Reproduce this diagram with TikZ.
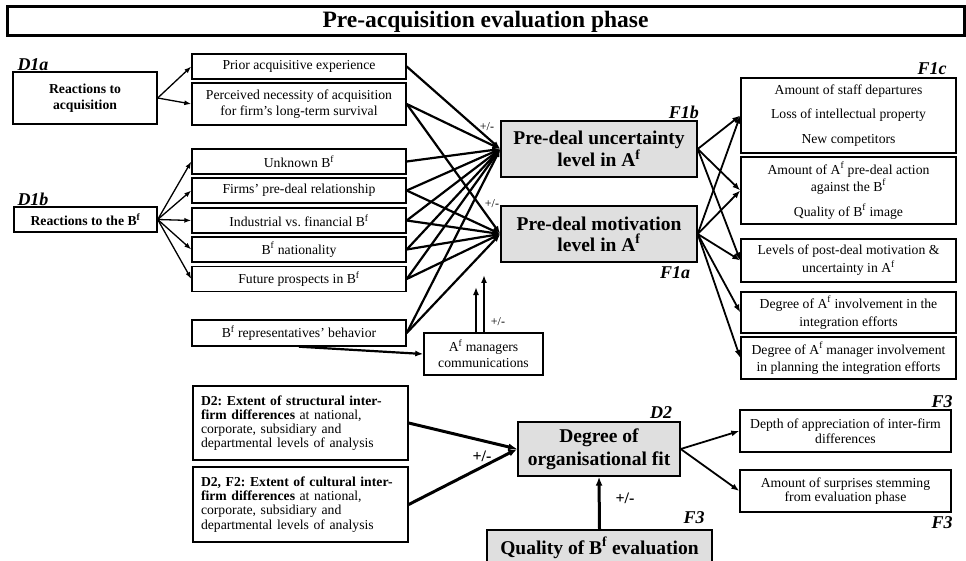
\documentclass[tikz,border=0pt]{standalone}
\usepackage{fontspec}
\setmainfont{Liberation Serif}
\usetikzlibrary{arrows.meta}
\frenchspacing

\newcommand{\fsz}[2]{\fontsize{#1}{#2}\selectfont}
\newcommand{\Bf}{B\textsuperscript{f}}
\newcommand{\Af}{A\textsuperscript{f}}

\tikzset{
  box/.style={draw, line width=1.4pt, inner sep=0pt, align=center, font=\fsz{13.7}{16}},
  hub/.style={box, fill=gray!25, font=\bfseries\fsz{19.5}{21}},
  tag/.style={font=\bfseries\itshape\fsz{18}{18}, inner sep=0pt},
  pm/.style={font=\fsz{12}{12}, inner sep=0pt},
  pmb/.style={font=\bfseries\fsz{16}{16}, inner sep=0pt},
  feed/.style={line width=1.3pt, -{Latex[length=7pt,width=5pt]}},
  fan/.style={line width=2.2pt, -{Latex[length=8pt,width=6pt]}},
  spread/.style={line width=1.8pt, -{Latex[length=8pt,width=6pt]}},
  heavy/.style={line width=3pt, -{Latex[length=9pt,width=7pt]}},
}

\begin{document}
\begin{tikzpicture}[x=1pt,y=-1pt]
\useasboundingbox (0,0) rectangle (966,561);
\clip (0,0) rectangle (966,561);

% heading
\node[draw, line width=3pt, minimum width=957pt, minimum height=29pt, inner sep=0pt,
      font=\bfseries\fsz{23.5}{23.5}] (title) at (485.5,21.5) {Pre-acquisition evaluation phase};

% D1a: reactions to the acquisition
\node[tag] (d1a) at (33,65) {D1a};
\node[box, font=\bfseries\fsz{13.7}{15.5}, minimum width=144pt, minimum height=52pt] (acq) at (85,98) {Reactions to\\acquisition};
\node[box, minimum width=214pt, minimum height=25pt] (prior) at (299,66.5) {Prior acquisitive experience};
\node[box, minimum width=214pt, minimum height=42pt] (necess) at (299,104) {Perceived necessity of acquisition\\for firm’s long-term survival};

% D1b: reactions to the buying firm
\node[tag] (d1b) at (33,199) {D1b};
\node[box, font=\bfseries\fsz{13.7}{15.5}, minimum width=143pt, minimum height=25pt] (bf) at (85.5,219.5) {Reactions to the \Bf};
\node[box, minimum width=214pt, minimum height=25pt] (unk) at (299,161.5) {Unknown \Bf};
\node[box, minimum width=214pt, minimum height=25pt] (firms) at (299,190.5) {Firms’ pre-deal relationship};
\node[box, minimum width=214pt, minimum height=25pt] (indus) at (299,220.5) {Industrial vs. financial \Bf};
\node[box, minimum width=214pt, minimum height=25pt] (nation) at (299,249.5) {\Bf{} nationality};
\node[box, minimum width=214pt, minimum height=25pt] (future) at (299,279) {Future prospects in \Bf};
\node[box, minimum width=214pt, minimum height=26pt] (rep) at (299,333) {\Bf{} representatives’ behavior};

% central constructs
\node[hub, minimum width=196pt, minimum height=56pt] (unc) at (599,149) {Pre-deal uncertainty\\level in \Af};
\node[hub, minimum width=196pt, minimum height=56pt] (mot) at (599,234) {Pre-deal motivation\\level in \Af};
\node[tag, anchor=east] (f1b) at (699,112) {F1b};
\node[tag] (f1a) at (675,273) {F1a};
\node[box, minimum width=119pt, minimum height=42pt] (afm) at (483.5,354) {\Af{} managers\\communications};

% outcomes
\node[tag] (f1c) at (932,69) {F1c};
\node[box, font=\fsz{13.7}{16.5}, minimum width=215pt, minimum height=75pt] (r1) at (848.5,115.5)
  {Amount of staff departures\\[8pt]Loss of intellectual property\\[8pt]New competitors};
\node[box, font=\fsz{13.7}{17}, minimum width=215pt, minimum height=67pt] (r2) at (848.5,190.5)
  {Amount of \Af{} pre-deal action\\against the \Bf\\[8pt]Quality of \Bf{} image};
\node[box, font=\fsz{13.7}{18}, minimum width=215pt, minimum height=43pt] (r3) at (848.5,260.5)
  {Levels of post-deal motivation \&\\uncertainty in \Af};
\node[box, font=\fsz{13.7}{18}, minimum width=215pt, minimum height=41pt] (r4) at (848.5,312.5)
  {Degree of \Af{} involvement in the\\integration efforts};
\node[box, font=\fsz{13.7}{17}, minimum width=215pt, minimum height=42pt] (r5) at (848.5,358)
  {Degree of \Af{} manager involvement\\in planning the integration efforts};

% organisational fit
\node[box, align=left, text width=199pt, font=\fsz{13.7}{14.2}, minimum width=215pt, minimum height=74pt] (s1) at (300.5,423)
  {\textbf{D2: Extent of structural inter-}\\\textbf{firm differences} at national,\\corporate, subsidiary and\\departmental levels of analysis};
\node[box, align=left, text width=199pt, font=\fsz{13.7}{14.2}, minimum width=215pt, minimum height=75pt] (s2) at (300.5,504.5)
  {\textbf{D2, F2: Extent of cultural inter-}\\\textbf{firm differences} at national,\\corporate, subsidiary and\\departmental levels of analysis};
\node[hub, font=\bfseries\fsz{19.5}{23}, minimum width=162pt, minimum height=54pt] (fit) at (599,449) {Degree of\\organisational fit};
\node[tag] (d2) at (661,413) {D2};
\node[hub, minimum width=225pt, minimum height=36pt] (qual) at (599.5,548) {Quality of \Bf{} evaluation};
\node[tag] (f3q) at (694,518) {F3};
\node[box, font=\fsz{13.7}{14.5}, minimum width=211pt, minimum height=42pt] (depth) at (845.5,431)
  {Depth of appreciation of inter-firm\\differences};
\node[box, font=\fsz{13.7}{14.5}, minimum width=211pt, minimum height=42pt] (surp) at (845.5,491)
  {Amount of surprises stemming\\from evaluation phase};
\node[tag] (f3a) at (942,402) {F3};
\node[tag] (f3b) at (942,523) {F3};

% sign labels
\node[pm] (pm1) at (487,127) {+/-};
\node[pm] (pm2) at (492,204) {+/-};
\node[pm] (pm3) at (498,322) {+/-};
\node[pmb] (pm4) at (482,456) {+/-};
\node[pmb] (pm5) at (625,498) {+/-};

% antecedent branches
\draw[feed] (acq.east) -- (prior.west);
\draw[feed] (acq.east) -- (necess.west);
\foreach \t in {unk,firms,indus,nation,future}
  \draw[feed] (bf.east) -- (\t.west);

% antecedents into the pre-deal levels
\draw[fan] (prior.east) -- (unc.west);
\draw[fan] (unk.east) -- (unc.west);
\foreach \s in {necess,firms,indus,nation,future,rep} {
  \draw[fan] (\s.east) -- (unc.west);
  \draw[fan] (\s.east) -- (mot.west);
}

% managers' communications
\coordinate (v1) at (476,287);
\coordinate (v2) at (484,275);
\draw[fan] (afm.north -| v1) -- (v1);
\draw[fan] (afm.north -| v2) -- (v2);
\draw[fan] (rep.south) -- (afm.west);

% pre-deal levels into outcomes
\foreach \t in {r1,r2,r3}
  \draw[spread] (unc.east) -- (\t.west);
\foreach \t in {r1,r2,r3,r4,r5}
  \draw[spread] (mot.east) -- (\t.west);

% organisational fit
\draw[heavy] (s1.east) -- (fit.west);
\draw[heavy] (s2.east) -- (fit.west);
\draw[heavy] (qual.north) -- (fit.south);
\draw[spread] (fit.east) -- (depth.west);
\draw[spread] (fit.east) -- (surp.west);
\end{tikzpicture}
\end{document}
